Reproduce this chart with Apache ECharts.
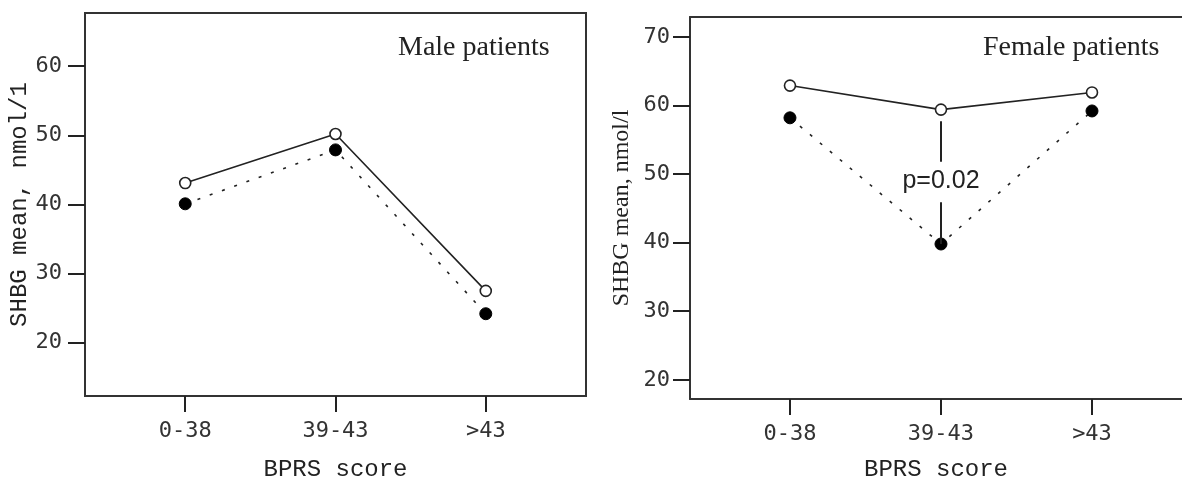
<!DOCTYPE html>
<html>
<head>
<meta charset="utf-8">
<script src="https://cdn.jsdelivr.net/npm/echarts@6/dist/echarts.min.js"></script>
<style>
  html, body { margin: 0; padding: 0; background: #fff; }
  #chart { width: 1182px; height: 487px; }
</style>
</head>
<body>
<div id="chart"></div>
<script>
// BPRS score groups
const categories = ['0-38', '39-43', '>43'];
const yTicks = [20, 30, 40, 50, 60];
const yTicksFemale = [20, 30, 40, 50, 60, 70];

// SHBG means, open circles (solid) and filled circles (dotted)
const maleOpen = [43.1, 50.2, 27.5];
const maleFilled = [40.1, 47.9, 24.2];
const femaleOpen = [62.9, 59.4, 61.9];
const femaleFilled = [58.2, 39.8, 59.2];

// p-value annotation between the two 39-43 points (line broken around the text)
const pLabel = 'p=0.02';
const pUpperLine = [57.7, 51.8];
const pLowerLine = [45.9, 39.8];
const pLabelAt = 48.9;

const toPoints = vals => vals.map((v, i) => [i, v]);

const ink = '#222';
const frame = '#333';
const tickFont = 'DejaVu Sans Mono';

function xAxis(gridIndex, min, max, showLine) {
  return {
    type: 'value',
    gridIndex: gridIndex,
    min: min,
    max: max,
    splitLine: { show: false },
    axisLine: { show: showLine, onZero: false, lineStyle: { color: frame, width: 2 } },
    axisTick: { show: true, inside: false, length: 16, customValues: [0, 1, 2],
      lineStyle: { color: ink, width: 2 } },
    axisLabel: { customValues: [0, 1, 2], formatter: v => categories[Math.round(v)],
      margin: 24, fontFamily: tickFont, fontSize: 22, color: '#333' },
    name: 'BPRS score',
    nameLocation: 'middle',
    nameGap: gridIndex === 0 ? 62 : 59,
    nameTextStyle: { fontFamily: 'Liberation Mono', fontSize: 24, color: ink }
  };
}

function yAxis(gridIndex, min, max, ticks, name, nameFont, gap, margin, showLine) {
  return {
    type: 'value',
    gridIndex: gridIndex,
    min: min,
    max: max,
    splitLine: { show: false },
    axisLine: { show: showLine, onZero: false, lineStyle: { color: frame, width: 2 } },
    axisTick: { show: true, inside: false, length: 17, customValues: ticks,
      lineStyle: { color: ink, width: 2 } },
    axisLabel: { customValues: ticks, margin: margin, fontFamily: tickFont, fontSize: 22, color: '#333' },
    name: name,
    nameLocation: 'middle',
    nameGap: gap,
    nameTextStyle: { fontFamily: nameFont, fontSize: 24, color: ink }
  };
}

function openSeries(idx, vals) {
  return {
    type: 'line', xAxisIndex: idx, yAxisIndex: idx, data: toPoints(vals),
    symbol: 'circle', symbolSize: 11, z: 4,
    lineStyle: { color: ink, width: 1.6, type: 'solid' },
    itemStyle: { color: '#fff', borderColor: ink, borderWidth: 1.6 }
  };
}

function filledSeries(idx, vals) {
  return {
    type: 'line', xAxisIndex: idx, yAxisIndex: idx, data: toPoints(vals),
    symbol: 'circle', symbolSize: 12, z: 3,
    lineStyle: { color: ink, width: 1.6, type: [3, 10] },
    itemStyle: { color: '#000', borderColor: '#000', borderWidth: 1 }
  };
}

const chart = echarts.init(document.getElementById('chart'));
const femaleDrop = filledSeries(1, femaleFilled);
femaleDrop.markLine = {
  silent: true,
  symbol: ['none', 'none'],
  label: { show: false },
  lineStyle: { color: ink, width: 2, type: 'solid' },
  data: [
    [{ coord: [1, pUpperLine[0]] }, { coord: [1, pUpperLine[1]] }],
    [{ coord: [1, pLowerLine[0]] }, { coord: [1, pLowerLine[1]] }]
  ]
};

// top edge of the right panel (its right edge is cut off by the picture)
const femaleTop = {
  type: 'value', gridIndex: 1, position: 'top', min: -0.662, max: 2.596,
  axisLine: { show: true, onZero: false, lineStyle: { color: frame, width: 2 } },
  axisTick: { show: false }, axisLabel: { show: false }, splitLine: { show: false }
};

chart.setOption({
  animation: false,
  title: [
    { text: 'Male patients', left: 393, top: 29,
      textStyle: { fontFamily: 'Liberation Serif', fontSize: 28, fontWeight: 'normal', color: ink } },
    { text: 'Female patients', left: 978, top: 29,
      textStyle: { fontFamily: 'Liberation Serif', fontSize: 28, fontWeight: 'normal', color: ink } }
  ],
  grid: [
    { left: 85, top: 13, width: 501, height: 383, show: true, borderColor: frame, borderWidth: 2, backgroundColor: 'transparent' },
    { left: 690, top: 17, right: 0, height: 386, show: false }
  ],
  xAxis: [xAxis(0, -0.667, 2.667, false), xAxis(1, -0.662, 2.596, true), femaleTop],
  yAxis: [
    yAxis(0, 12.3, 67.7, yTicks, 'SHBG mean, nmol/1', 'Liberation Mono', 52, 23, false),
    yAxis(1, 17.2, 72.9, yTicksFemale, 'SHBG mean, nmol/l', 'Liberation Serif', 56, 20, true)
  ],
  series: [
    filledSeries(0, maleFilled),
    openSeries(0, maleOpen),
    femaleDrop,
    openSeries(1, femaleOpen),
    {
      type: 'scatter', xAxisIndex: 1, yAxisIndex: 1, z: 5,
      data: [[1, pLabelAt]], symbol: 'circle', symbolSize: 0,
      itemStyle: { color: '#fff', opacity: 1 },
      label: { show: true, position: 'inside', formatter: pLabel,
        fontFamily: 'Liberation Sans', fontSize: 25, color: ink, opacity: 1 }
    }
  ]
});
</script>
</body>
</html>
